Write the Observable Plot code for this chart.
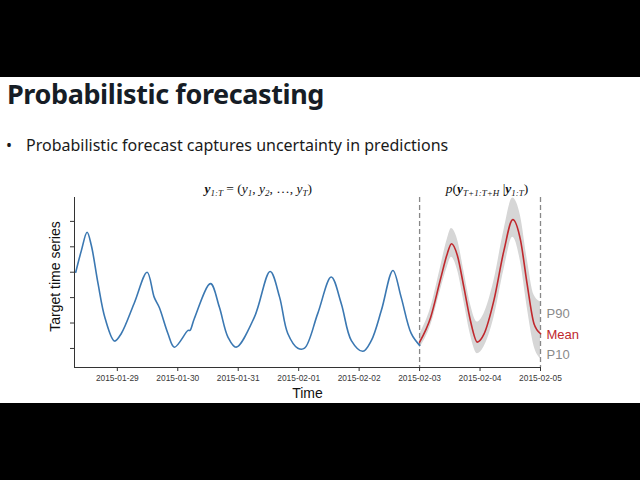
<!DOCTYPE html>
<html><head><meta charset="utf-8">
<script src="https://cdn.jsdelivr.net/npm/d3@7"></script>
<script src="https://cdn.jsdelivr.net/npm/@observablehq/plot@0.6"></script>
<style>
html,body{margin:0;padding:0;background:#000;width:640px;height:480px;overflow:hidden;}
#slide{position:absolute;left:0;top:77px;width:640px;height:326px;background:#fff;}
#title{position:absolute;left:7px;top:-2px;font-family:"Noto Sans";font-weight:bold;font-size:27px;line-height:normal;letter-spacing:-0.4px;color:#161d26;white-space:nowrap;}
#bullet{position:absolute;left:6px;top:57px;font-family:"Noto Sans";font-size:16px;line-height:22px;color:#1a1a1a;white-space:nowrap;}
#bullet .dot{display:inline-block;width:20px;}
#chart{position:absolute;left:0;top:103px;}
</style>
</head><body>
<div id="slide">
  <div id="title">Probabilistic forecasting</div>
  <div id="bullet"><span class="dot">•</span>Probabilistic forecast captures uncertainty in predictions</div>
  <div id="chart"></div>
</div>
<script>
// Observed target series
const obsTime = ["2015-01-28T07:30","2015-01-28T09:45","2015-01-28T12:00","2015-01-28T13:40","2015-01-28T16:20","2015-01-28T19:10","2015-01-28T22:55",
 "2015-01-29T01:35","2015-01-29T06:40","2015-01-29T11:50","2015-01-29T14:40","2015-01-29T16:40","2015-01-29T20:05","2015-01-29T22:40",
 "2015-01-30T04:05","2015-01-30T04:50","2015-01-30T06:35","2015-01-30T13:00","2015-01-30T16:30","2015-01-30T19:55","2015-01-30T23:10",
 "2015-01-31T06:25","2015-01-31T12:40","2015-01-31T16:25","2015-01-31T19:40","2015-01-31T23:40",
 "2015-02-01T02:20","2015-02-01T07:35","2015-02-01T12:55","2015-02-01T16:55","2015-02-01T20:55",
 "2015-02-02T01:30","2015-02-02T04:50","2015-02-02T08:50","2015-02-02T13:25","2015-02-02T16:40","2015-02-02T20:40","2015-02-03T00:00"];
const obsValue = [4.00,4.86,5.57,5.06,3.56,2.18,1.29,
 1.59,2.77,4.00,3.01,2.61,1.59,1.05,
 1.71,1.71,2.18,3.55,2.63,1.45,1.05,
 2.23,4.03,3.02,1.59,1.01,
 1.01,2.38,3.81,2.76,1.31,
 0.89,1.31,2.50,4.07,3.02,1.59,1.12];

// Forecast: mean and P90 / P10 quantiles
const fcTime = ["2015-02-03T00:00","2015-02-03T04:25","2015-02-03T08:20","2015-02-03T11:00","2015-02-03T12:40","2015-02-03T15:00","2015-02-03T17:35","2015-02-03T20:10","2015-02-03T22:55",
 "2015-02-04T01:30","2015-02-04T05:30","2015-02-04T09:30","2015-02-04T13:00","2015-02-04T16:05","2015-02-04T18:40","2015-02-04T21:25","2015-02-05T00:00"];
const fcMean = [1.25,2.23,3.74,4.73,5.12,4.66,3.41,2.10,1.25,1.55,2.89,4.86,6.07,5.25,3.55,1.97,1.58];
const fcP90  = [1.55,2.60,4.20,5.30,5.72,5.30,4.05,2.75,2.04,2.35,3.65,5.65,6.92,6.20,4.55,3.10,2.83];
const fcP10  = [1.00,1.90,3.30,4.20,4.59,4.10,2.85,1.55,0.79,1.05,2.20,4.10,5.38,4.40,2.65,1.10,0.60];

const xTicks = ["2015-01-29","2015-01-30","2015-01-31","2015-02-01","2015-02-02","2015-02-03","2015-02-04","2015-02-05"];
const yTicks = [1,2,3,4,5,6];
const markers = ["2015-02-03","2015-02-05"];
const bandLabels = ["P90","Mean","P10"];
const bandLabelValues = [2.38,1.55,0.76];
const bandLabelColors = ["#8a8a8a","#c0282d","#8a8a8a"];

const parse = s => new Date(s + (s.length === 10 ? "T00:00" : ""));
const obs = obsTime.map((t,i) => ({t: parse(t), v: obsValue[i]}));
const fc = fcTime.map((t,i) => ({t: parse(t), m: fcMean[i], hi: fcP90[i], lo: fcP10[i]}));
const xt = xTicks.map(parse);
const xStart = parse("2015-01-28T07:00"), xEnd = parse("2015-02-05T00:00");
const yMin = 0.25, yMax = 6.94;
const labels = bandLabels.map((s,i) => ({s, v: bandLabelValues[i], c: bandLabelColors[i]}));
const fmt = d3.timeFormat("%Y-%m-%d");

const plot = Plot.plot({
  width: 640, height: 222,
  marginLeft: 74, marginRight: 100, marginTop: 17, marginBottom: 35,
  style: {fontFamily: "Liberation Sans, Arial, sans-serif", background: "transparent"},
  x: {type: "time", domain: [xStart, xEnd]},
  y: {domain: [yMin, yMax]},
  marks: [
    Plot.areaY(fc, {x: "t", y1: "lo", y2: "hi", fill: "#d6d6d6", curve: "monotone-x"}),
    Plot.ruleX(markers.map(parse), {stroke: "#888", strokeWidth: 1.3, strokeDasharray: "5,3"}),
    Plot.ruleX([xStart], {stroke: "#333", strokeWidth: 1}),
    Plot.ruleY([yMin], {stroke: "#333", strokeWidth: 1}),
    Plot.axisX({ticks: xt, tickFormat: fmt, tickSize: 4, tickPadding: 4, fontSize: 8.4, fill: "#383838", stroke: "#333", label: null}),
    Plot.axisY({ticks: yTicks, tickFormat: () => "", tickSize: 4, stroke: "#333", label: null}),
    Plot.line(obs, {x: "t", y: "v", stroke: "#3b78b2", strokeWidth: 1.6, curve: "catmull-rom"}),
    Plot.line(fc, {x: "t", y: "m", stroke: "#c0282d", strokeWidth: 1.6, curve: "monotone-x"}),
    Plot.text(labels, {x: () => xEnd, y: "v", text: "s", fill: "c", dx: 6, textAnchor: "start", fontSize: 13}),
    Plot.text(["Target time series"], {frameAnchor: "left", dx: -19, dy: -6, rotate: -90, textAnchor: "middle", lineAnchor: "middle", fontSize: 14, fill: "#111"}),
    Plot.text(["Time"], {frameAnchor: "bottom", dy: 26, lineAnchor: "middle", fontSize: 14, fill: "#111"})
  ]
});
document.getElementById("chart").appendChild(plot);

// Math annotations (serif, with subscripts), placed through the x scale
const sx = plot.scale("x");
const svg = d3.select(plot);
function mathText(x, parts) {
  const t = svg.append("text").attr("x", x).attr("y", 13)
    .attr("text-anchor", "middle").attr("font-family", "Liberation Serif, DejaVu Serif, serif")
    .attr("font-size", 13.5).attr("fill", "#111");
  let shifted = 0;
  for (const [txt, kind] of parts) {
    const s = t.append("tspan").text(txt);
    const want = kind === "sub" ? 3 : 0;
    if (want !== shifted) { s.attr("dy", want - shifted); shifted = want; }
    if (kind === "sub") s.attr("font-size", 9).attr("font-style", "italic");
    if (kind === "bv") s.attr("font-weight", "bold").attr("font-style", "italic");
    if (kind === "it") s.attr("font-style", "italic");
  }
}
mathText(sx.apply(parse("2015-01-31T08:10")), [["y","bv"],["1:T","sub"],[" = (",""],["y","it"],["1","sub"],[", ",""],["y","it"],["2","sub"],[", …, ",""],["y","it"],["T","sub"],[")",""]]);
mathText(sx.apply(parse("2015-02-04T03:00")), [["p","it"],["(",""],["y","bv"],["T+1:T+H","sub"],[" |",""],["y","bv"],["1:T","sub"],[")",""]]);
</script>
</body></html>
